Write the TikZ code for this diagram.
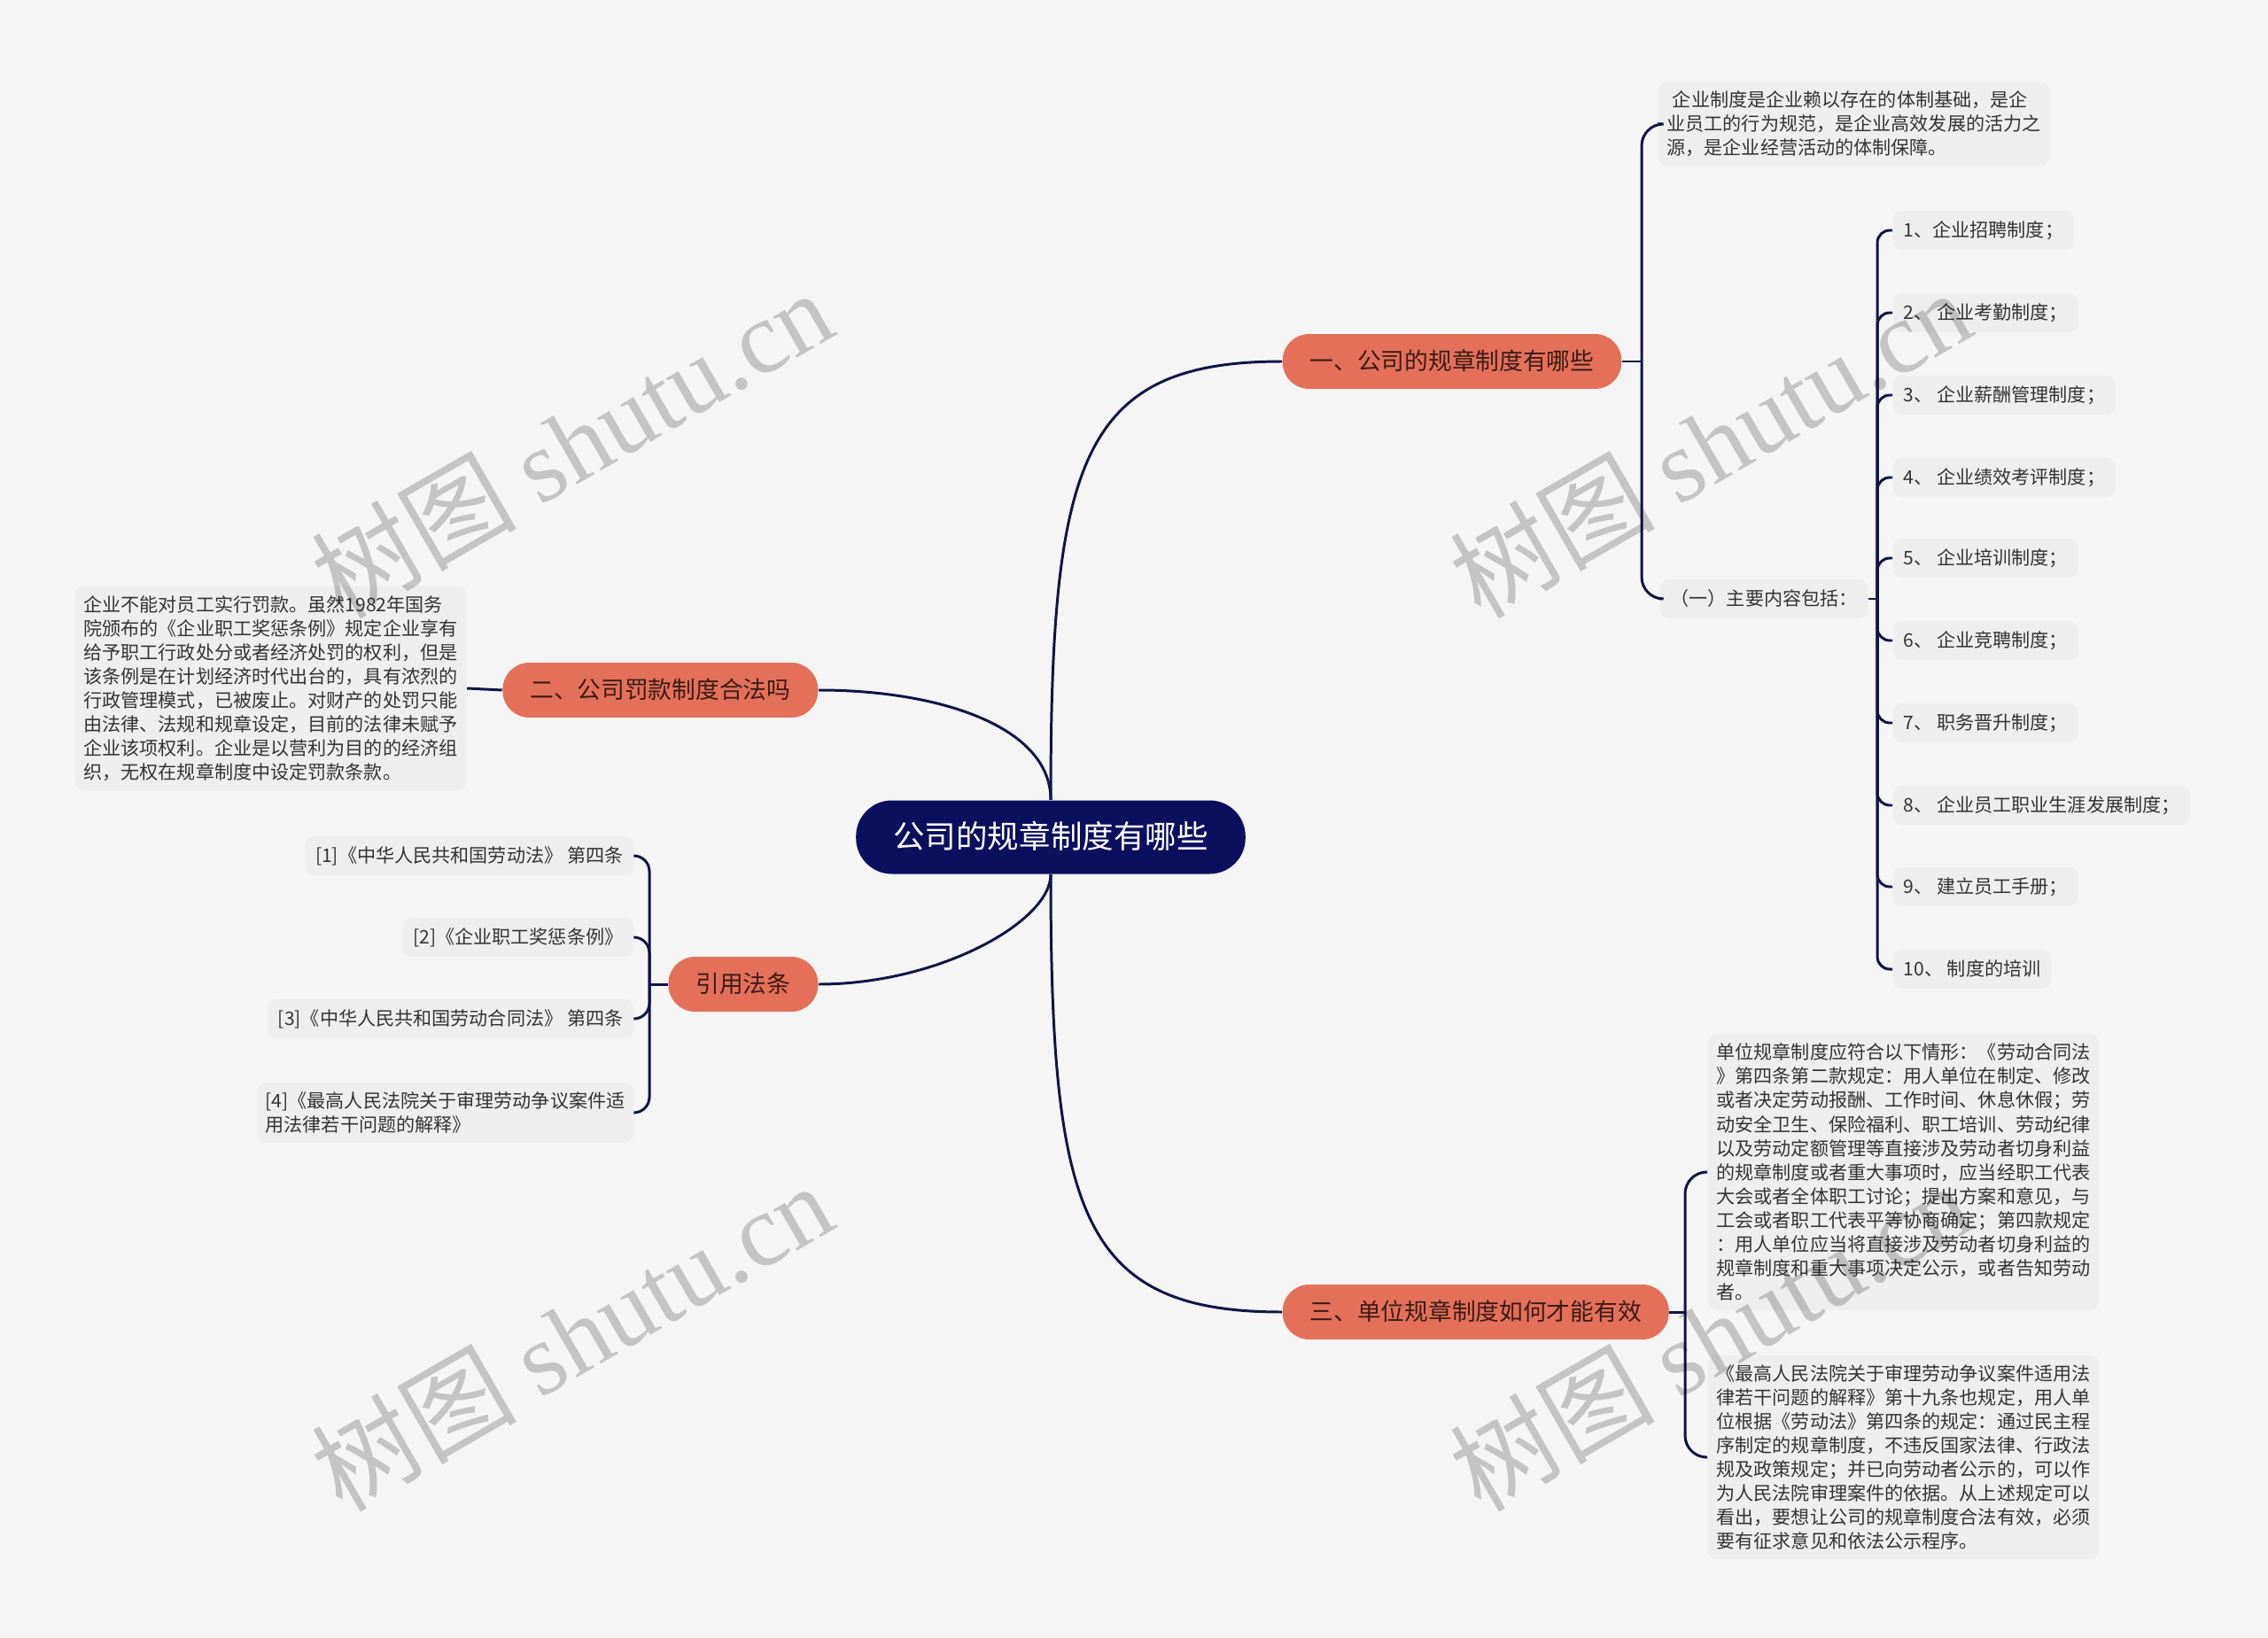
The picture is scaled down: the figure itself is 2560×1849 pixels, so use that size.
\documentclass[tikz,border=0pt]{standalone}
\usepackage{fontspec}
\setmainfont{Noto Sans CJK SC}
\newfontfamily\wmlatin{Liberation Serif}

\definecolor{bgcol}{HTML}{F5F5F5}
\definecolor{boxcol}{HTML}{EEEEEE}
\definecolor{coral}{HTML}{E4705A}
\definecolor{navy}{HTML}{0B105E}
\definecolor{linecol}{HTML}{101447}
\definecolor{txtcol}{HTML}{333333}
\definecolor{brtxt}{HTML}{3A1C16}

\begin{document}
\begin{tikzpicture}[x=0.01cm, y=-0.01cm,
    linkline/.style={draw=linecol, line width=0.85pt},
    rootbox/.style={fill=navy, text=white, rounded corners=11.5pt, minimum height=23.6pt,
        inner xsep=12pt, text height=8.5pt, text depth=1.2pt, font=\fontsize{10.1pt}{12pt}\selectfont},
    topicbox/.style={fill=coral, text=brtxt, rounded corners=8.5pt, minimum height=17.6pt,
        inner xsep=8.8pt, text height=6.4pt, text depth=0.9pt, font=\fontsize{7.6pt}{9pt}\selectfont},
    leafbox/.style={fill=boxcol, text=txtcol, rounded corners=3pt, inner xsep=3.4pt, inner ysep=3.3pt,
        text height=5.1pt, text depth=0.9pt, font=\fontsize{6pt}{7.7pt}\selectfont},
    parabox/.style={fill=boxcol, text=txtcol, rounded corners=3pt, inner xsep=2.8pt, inner ysep=3pt,
        align=left, font=\fontsize{6pt}{7.7pt}\selectfont},
    wmtext/.style={text=black, opacity=0.2, rotate=30, font=\fontsize{33pt}{36pt}\selectfont}]

    % sfondo
    \fill[bgcol] (0,0) rectangle (2560,1849);
    \useasboundingbox (0,0) rectangle (2560,1849);

    % centro
    \node[rootbox] (root) at (1186,945) {公司的规章制度有哪些};

    % rami
    \node[topicbox, anchor=west] (b1) at (1447,408) {一、公司的规章制度有哪些};
    \node[topicbox, anchor=east] (b2) at (924,779) {二、公司罚款制度合法吗};
    \node[topicbox, anchor=east] (b4) at (924,1111) {引用法条};
    \node[topicbox, anchor=west] (b3) at (1447,1481) {三、单位规章制度如何才能有效};

    \draw[linkline] (root.north) .. controls (1186,520) and (1220,408) .. (b1.west);
    \draw[linkline] (root.north) .. controls (1186,820) and (1060,779) .. (b2.east);
    \draw[linkline] (root.south) .. controls (1186,1040) and (1060,1111) .. (b4.east);
    \draw[linkline] (root.south) .. controls (1186,1370) and (1220,1481) .. (b3.west);

    % ramo uno
    \node[parabox, anchor=west] (d1) at (1871,140)
        {\hspace{0.3em}企业制度是企业赖以存在的体制基础，是企\\
         业员工的行为规范，是企业高效发展的活力之\\
         源，是企业经营活动的体制保障。};
    \node[leafbox, anchor=west] (s1) at (1873,676) {（一）主要内容包括：};

    \coordinate (j1) at (1853,408);
    \draw[linkline] (b1.east) -- (j1);
    \draw[linkline, rounded corners=7pt] (j1) |- (d1.west);
    \draw[linkline, rounded corners=7pt] (j1) |- (s1.west);

    % elenco
    \node[leafbox, anchor=west] (i1) at (2136,260) {1、企业招聘制度；};
    \node[leafbox, anchor=west] (i2) at (2136,353) {2、 企业考勤制度；};
    \node[leafbox, anchor=west] (i3) at (2136,446) {3、 企业薪酬管理制度；};
    \node[leafbox, anchor=west] (i4) at (2136,539) {4、 企业绩效考评制度；};
    \node[leafbox, anchor=west] (i5) at (2136,630) {5、 企业培训制度；};
    \node[leafbox, anchor=west] (i6) at (2136,723) {6、 企业竞聘制度；};
    \node[leafbox, anchor=west] (i7) at (2136,816) {7、 职务晋升制度；};
    \node[leafbox, anchor=west] (i8) at (2136,909) {8、 企业员工职业生涯发展制度；};
    \node[leafbox, anchor=west] (i9) at (2136,1001) {9、 建立员工手册；};
    \node[leafbox, anchor=west] (i10) at (2136,1094) {10、 制度的培训};

    \coordinate (j2) at (2119,676);
    \draw[linkline] (s1.east) -- (j2);
    \draw[linkline, rounded corners=4pt] (j2) |- (i1.west);
    \draw[linkline, rounded corners=4pt] (j2) |- (i2.west);
    \draw[linkline, rounded corners=4pt] (j2) |- (i3.west);
    \draw[linkline, rounded corners=4pt] (j2) |- (i4.west);
    \draw[linkline, rounded corners=4pt] (j2) |- (i5.west);
    \draw[linkline, rounded corners=4pt] (j2) |- (i6.west);
    \draw[linkline, rounded corners=4pt] (j2) |- (i7.west);
    \draw[linkline, rounded corners=4pt] (j2) |- (i8.west);
    \draw[linkline, rounded corners=4pt] (j2) |- (i9.west);
    \draw[linkline, rounded corners=4pt] (j2) |- (i10.west);

    % ramo due
    \node[parabox, anchor=east] (d2) at (527,777)
        {企业不能对员工实行罚款。虽然1982年国务\\
         院颁布的《企业职工奖惩条例》规定企业享有\\
         给予职工行政处分或者经济处罚的权利，但是\\
         该条例是在计划经济时代出台的，具有浓烈的\\
         行政管理模式，已被废止。对财产的处罚只能\\
         由法律、法规和规章设定，目前的法律未赋予\\
         企业该项权利。企业是以营利为目的的经济组\\
         织，无权在规章制度中设定罚款条款。};
    \draw[linkline] (b2.west) -- (d2.east);

    % leggi citate
    \node[leafbox, anchor=east] (r1) at (716,966) {[1]《中华人民共和国劳动法》 第四条};
    \node[leafbox, anchor=east] (r2) at (716,1058) {[2]《企业职工奖惩条例》};
    \node[leafbox, anchor=east] (r3) at (716,1150) {[3]《中华人民共和国劳动合同法》 第四条};
    \node[parabox, anchor=east] (r4) at (716,1256)
        {[4]《最高人民法院关于审理劳动争议案件适\\
         用法律若干问题的解释》};

    \coordinate (j3) at (733,1111);
    \draw[linkline] (b4.west) -- (j3);
    \draw[linkline, rounded corners=5pt] (j3) |- (r1.east);
    \draw[linkline, rounded corners=5pt] (j3) |- (r2.east);
    \draw[linkline, rounded corners=5pt] (j3) |- (r3.east);
    \draw[linkline, rounded corners=5pt] (j3) |- (r4.east);

    % ramo tre
    \node[parabox, anchor=west] (d3) at (1927,1323)
        {单位规章制度应符合以下情形：《劳动合同法\\
         》第四条第二款规定：用人单位在制定、修改\\
         或者决定劳动报酬、工作时间、休息休假；劳\\
         动安全卫生、保险福利、职工培训、劳动纪律\\
         以及劳动定额管理等直接涉及劳动者切身利益\\
         的规章制度或者重大事项时，应当经职工代表\\
         大会或者全体职工讨论；提出方案和意见，与\\
         工会或者职工代表平等协商确定；第四款规定\\
         ：用人单位应当将直接涉及劳动者切身利益的\\
         规章制度和重大事项决定公示，或者告知劳动\\
         者。};
    \node[parabox, anchor=west] (d4) at (1927,1645)
        {《最高人民法院关于审理劳动争议案件适用法\\
         律若干问题的解释》第十九条也规定，用人单\\
         位根据《劳动法》第四条的规定：通过民主程\\
         序制定的规章制度，不违反国家法律、行政法\\
         规及政策规定；并已向劳动者公示的，可以作\\
         为人民法院审理案件的依据。从上述规定可以\\
         看出，要想让公司的规章制度合法有效，必须\\
         要有征求意见和依法公示程序。};

    \coordinate (j4) at (1902,1481);
    \draw[linkline] (b3.east) -- (j4);
    \draw[linkline, rounded corners=7pt] (j4) |- (d3.west);
    \draw[linkline, rounded corners=7pt] (j4) |- (d4.west);

    % filigrana
    \node[wmtext] (w1) at (645,500) {树图 {\wmlatin shutu.cn}};
    \node[wmtext] (w2) at (1930,500) {树图 {\wmlatin shutu.cn}};
    \node[wmtext] (w3) at (645,1508) {树图 {\wmlatin shutu.cn}};
    \node[wmtext] (w4) at (1930,1508) {树图 {\wmlatin shutu.cn}};
\end{tikzpicture}
\end{document}
